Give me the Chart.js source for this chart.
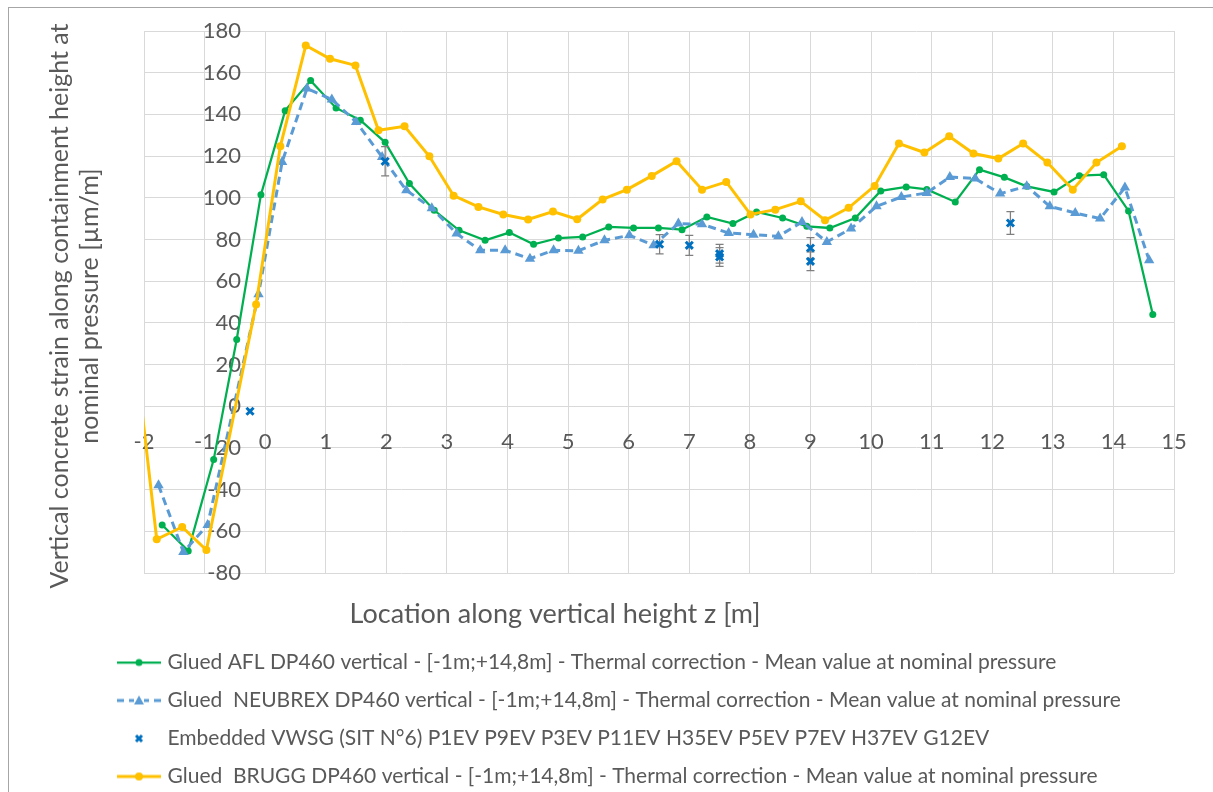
<!DOCTYPE html>
<html>
<head>
<meta charset="utf-8">
<script src="https://cdn.jsdelivr.net/npm/chart.js@4.4.1/dist/chart.umd.min.js"></script>
<style>
  html, body { margin: 0; padding: 0; background: #ffffff; }
  #wrap { position: relative; width: 1213px; height: 792px; overflow: hidden; background: #ffffff; }
  #frame { position: absolute; left: 8px; top: 7px; width: 1300px; height: 900px; border-left: 1px solid #A6A6A6; border-top: 1px solid #A6A6A6; pointer-events: none; }
  canvas { position: absolute; left: 0; top: 0; }
</style>
</head>
<body>
<div id="wrap">
  <canvas id="c" width="1213" height="792"></canvas>
  <div id="frame"></div>
</div>
<script>
// ---------- DATA ----------
const aflX = [-1.70,-1.27,-0.85,-0.47,-0.07,0.33,0.75,1.17,1.57,1.98,2.38,2.79,3.20,3.63,4.03,4.43,4.84,5.24,5.67,6.08,6.49,6.88,7.29,7.72,8.11,8.54,8.94,9.32,9.74,10.16,10.58,10.92,11.39,11.79,12.20,12.57,13.02,13.44,13.84,14.25,14.65];
const aflY = [-57,-69.4,-25.6,32,101.5,141.8,156.2,143.1,137.2,126.6,106.8,94,84.4,79.6,83.3,77.7,80.7,81.2,86,85.5,85.5,84.7,90.8,87.6,93.2,90.3,86.3,85.5,90.3,103.3,105.2,104,98,113.5,109.8,105.5,102.8,110.6,111.1,93.7,44];

const neuX = [-1.76,-1.35,-0.95,-0.11,0.28,0.69,1.10,1.50,1.93,2.33,2.75,3.16,3.55,3.96,4.37,4.76,5.17,5.60,6.01,6.41,6.82,7.21,7.65,8.06,8.47,8.86,9.27,9.67,10.09,10.50,10.92,11.30,11.72,12.13,12.57,12.95,13.37,13.78,14.19,14.59];
const neuY = [-37.9,-69.9,-57,53.7,117.2,152.4,147.2,136.4,119.6,103.6,95,82.8,74.8,74.8,70.8,74.8,74.6,79.6,82,77.2,87.6,87.3,83.1,82.3,81.5,88.4,78.8,85.2,95.9,100.4,102.3,110,109.2,102,105.5,95.9,92.7,90,104.9,70];

const vwsgX = [-0.25,1.98,6.51,7.0,7.5,7.5,9.0,9.0,12.3];
const vwsgY = [-2.4,117.5,77.7,77.2,73.2,71.6,75.9,69.5,87.9];
const vwsgErr = [0,7,4.6,4.8,4.5,4.5,5,4.5,5.4];

const bruggX = [-2.2,-1.79,-1.37,-0.97,-0.15,0.25,0.67,1.07,1.49,1.87,2.30,2.71,3.11,3.52,3.93,4.34,4.75,5.15,5.57,5.97,6.38,6.79,7.21,7.61,8.01,8.42,8.84,9.24,9.63,10.06,10.46,10.88,11.29,11.69,12.10,12.51,12.91,13.33,13.72,14.14];
const bruggY = [40,-63.8,-57.9,-69,48.8,124.7,173.1,166.7,163.5,132.4,134.3,119.9,101,95.6,92,89.6,93.4,89.7,99.2,103.9,110.5,117.5,103.9,107.6,92,94.3,98.3,89.2,95.2,105.7,126,121.7,129.5,121.2,118.8,126,116.9,103.9,116.9,124.7];

const seriesLabels = [
  'Glued AFL DP460 vertical - [-1m;+14,8m] - Thermal correction - Mean value at nominal pressure',
  'Glued  NEUBREX DP460 vertical - [-1m;+14,8m] - Thermal correction - Mean value at nominal pressure',
  'Embedded VWSG (SIT N°6) P1EV P9EV P3EV P11EV H35EV P5EV P7EV H37EV G12EV',
  'Glued  BRUGG DP460 vertical - [-1m;+14,8m] - Thermal correction - Mean value at nominal pressure'
];
const xTitle = 'Location along vertical height z [m]';
const yTitleLines = ['Vertical concrete strain along containment height at', 'nominal pressure [µm/m]'];
const xMin = -2, xMax = 15, xStep = 1;
const yMin = -80, yMax = 180, yStep = 20;

// ---------- STYLE ----------
const GREEN = '#00B050', BLUE = '#5B9BD5', DARKBLUE = '#0070C0', GOLD = '#FFC000';
const TEXT = '#595959', GRID = '#D9D9D9';
const FONT = 'Lato, "Open Sans", sans-serif';

const toPts = (xs, ys) => xs.map((x, i) => ({x: x, y: ys[i]}));

// legend icons (line + marker)
function makeIcon(kind) {
  const c = document.createElement('canvas');
  c.width = 44; c.height = 16;
  const g = c.getContext('2d');
  const cy = 8;
  if (kind === 'afl' || kind === 'brugg') {
    const col = kind === 'afl' ? GREEN : GOLD;
    g.strokeStyle = col; g.lineWidth = kind === 'afl' ? 2.25 : 3;
    g.beginPath(); g.moveTo(0, cy); g.lineTo(44, cy); g.stroke();
    g.fillStyle = col; g.beginPath(); g.arc(22, cy, kind === 'afl' ? 3.5 : 4, 0, Math.PI * 2); g.fill();
  } else if (kind === 'neu') {
    g.strokeStyle = BLUE; g.lineWidth = 3;
    g.beginPath(); g.moveTo(0, cy); g.lineTo(7, cy); g.moveTo(12, cy); g.lineTo(17, cy);
    g.moveTo(27, cy); g.lineTo(32, cy); g.moveTo(37, cy); g.lineTo(44, cy); g.stroke();
    g.fillStyle = BLUE; g.beginPath(); g.moveTo(22, cy - 5); g.lineTo(27, cy + 4); g.lineTo(17, cy + 4); g.closePath(); g.fill();
  } else {
    g.strokeStyle = DARKBLUE; g.lineWidth = 3;
    g.beginPath(); g.moveTo(19, cy - 3); g.lineTo(25, cy + 3); g.moveTo(25, cy - 3); g.lineTo(19, cy + 3); g.stroke();
  }
  return c;
}
const legendIcons = [makeIcon('afl'), makeIcon('neu'), makeIcon('vwsg'), makeIcon('brugg')];

// error bars for the embedded gauges
const errorBarPlugin = {
  id: 'errorBars',
  beforeDatasetDraw(chart, args) {
    if (args.index !== 2) return;
    const {ctx} = chart; const xs = chart.scales.x, ys = chart.scales.y;
    ctx.save();
    ctx.strokeStyle = '#7F7F7F'; ctx.lineWidth = 1.25;
    vwsgX.forEach((xv, i) => {
      const e = vwsgErr[i]; if (!e) return;
      const px = xs.getPixelForValue(xv);
      const t = ys.getPixelForValue(vwsgY[i] + e), b = ys.getPixelForValue(vwsgY[i] - e);
      ctx.beginPath();
      ctx.moveTo(px, t); ctx.lineTo(px, b);
      ctx.moveTo(px - 4, t); ctx.lineTo(px + 4, t);
      ctx.moveTo(px - 4, b); ctx.lineTo(px + 4, b);
      ctx.stroke();
    });
    ctx.restore();
  }
};

// axis titles
const axisTitlePlugin = {
  id: 'axisTitles',
  afterDraw(chart) {
    const {ctx, chartArea: a} = chart;
    ctx.save();
    ctx.fillStyle = TEXT;
    ctx.textAlign = 'center'; ctx.textBaseline = 'middle';
    ctx.font = '25px ' + FONT;
    const cy = (a.top + a.bottom) / 2 + 4;
    yTitleLines.forEach((t, i) => {
      ctx.save();
      ctx.translate(a.left - 84 + i * 30, cy);
      ctx.rotate(-Math.PI / 2);
      ctx.fillText(t, 0, 0);
      ctx.restore();
    });
    ctx.font = '27px ' + FONT;
    ctx.fillText(xTitle, a.left + 411, a.bottom + 41);
    ctx.restore();
  }
};

Chart.defaults.font.family = FONT;
Chart.defaults.color = TEXT;

const chart = new Chart(document.getElementById('c'), {
  type: 'scatter',
  data: {
    datasets: [
      { label: seriesLabels[0], data: toPts(aflX, aflY), showLine: true, xAxisID: 'x', yAxisID: 'y',
        borderColor: GREEN, backgroundColor: GREEN, borderWidth: 2.25, pointStyle: 'circle',
        pointRadius: 3.5, pointBorderWidth: 0, pointBackgroundColor: GREEN, order: 4 },
      { label: seriesLabels[1], data: toPts(neuX, neuY), showLine: true, xAxisID: 'x', yAxisID: 'y',
        borderColor: BLUE, backgroundColor: BLUE, borderWidth: 3, borderDash: [8, 5], pointStyle: 'triangle',
        pointRadius: 6, pointBorderWidth: 0, pointBackgroundColor: BLUE, order: 3 },
      { label: seriesLabels[2], data: toPts(vwsgX, vwsgY), showLine: false, xAxisID: 'x', yAxisID: 'y',
        borderColor: DARKBLUE, backgroundColor: DARKBLUE, pointStyle: 'crossRot', pointRadius: 5,
        pointBorderWidth: 3, pointBorderColor: DARKBLUE, order: 2 },
      { label: seriesLabels[3], data: toPts(bruggX, bruggY), showLine: true, xAxisID: 'x', yAxisID: 'y',
        borderColor: GOLD, backgroundColor: GOLD, borderWidth: 3, pointStyle: 'circle',
        pointRadius: 4, pointBorderWidth: 0, pointBackgroundColor: GOLD, order: 1 }
    ]
  },
  options: {
    responsive: false,
    animation: false,
    events: [],
    layout: { padding: { left: 104, right: 39, top: 31, bottom: -5 } },
    scales: {
      x: {
        type: 'linear', axis: 'x', min: xMin, max: xMax, position: { y: 0 },
        ticks: { stepSize: xStep, autoSkip: false, maxRotation: 0, padding: 22, color: TEXT, font: { size: 22 } },
        grid: { color: GRID, lineWidth: 1, drawTicks: false },
        border: { color: GRID, width: 1 }
      },
      y: {
        type: 'linear', axis: 'y', min: yMin, max: yMax, position: { x: -0.4 },
        ticks: { stepSize: yStep, autoSkip: false, padding: 0, color: TEXT, font: { size: 22 } },
        grid: { color: GRID, lineWidth: 1, drawTicks: false },
        border: { display: false }
      },
      yPad: {
        type: 'linear', axis: 'y', position: 'left', display: true,
        grid: { display: false }, ticks: { display: false }, border: { display: false },
        afterFit(s) { s.width = 40; }
      },
      xPad: {
        type: 'linear', axis: 'x', position: 'bottom', display: true,
        grid: { display: false }, ticks: { display: false }, border: { display: false },
        afterFit(s) { s.height = 62; }
      }
    },
    plugins: {
      tooltip: { enabled: false },
      legend: {
        position: 'bottom', align: 'start',
        labels: {
          usePointStyle: true, pointStyleWidth: 36, padding: 17, color: TEXT,
          font: { size: 21 },
          sort: (a, b) => a.datasetIndex - b.datasetIndex,
          generateLabels(ch) {
            const items = Chart.defaults.plugins.legend.labels.generateLabels(ch);
            items.forEach(it => { it.pointStyle = legendIcons[it.datasetIndex]; });
            return items;
          }
        }
      }
    }
  },
  plugins: [errorBarPlugin, axisTitlePlugin]
});
</script>
</body>
</html>
